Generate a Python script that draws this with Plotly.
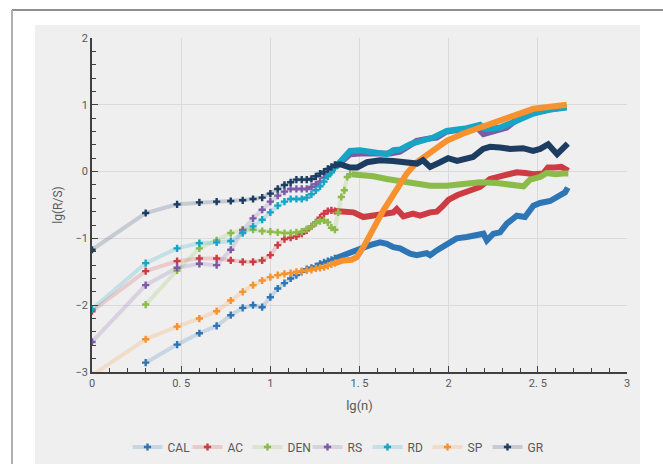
import numpy as np
import plotly.graph_objects as go

# ---- data: lg(R/S) against lg(n) for seven series ----
SERIES = ["CAL", "AC", "DEN", "RS", "RD", "SP", "GR"]
COLORS = {
    "CAL": (46, 117, 182),
    "AC": (204, 60, 66),
    "DEN": (139, 187, 72),
    "RS": (123, 90, 166),
    "RD": (23, 165, 198),
    "SP": (248, 146, 47),
    "GR": (29, 60, 98),
}

# sub-series length n for the individually marked points
N_EARLY = list(range(1, 24))

# lg(R/S) at n = 1..23 (None where the series has no value)
cal_early = [None, -2.86, -2.59, -2.42, -2.31, -2.15, -2.04, -2.00, -2.03, -1.88,
             -1.75, -1.67, -1.60, -1.55, -1.50, -1.46, -1.44, -1.42, -1.38, -1.36,
             -1.34, -1.32, -1.30]
ac_early = [-2.09, -1.49, -1.34, -1.30, -1.30, -1.33, -1.35, -1.35, -1.33, -1.25,
            -1.10, -1.01, -0.99, -0.97, -0.93, -0.88, -0.82, -0.76, -0.69, -0.63,
            -0.59, -0.58, -0.59]
den_early = [None, -1.99, -1.48, -1.15, -1.03, -0.92, -0.87, -0.87, -0.89, -0.90,
             -0.91, -0.92, -0.92, -0.91, -0.90, -0.86, -0.82, -0.77, -0.74, -0.73,
             -0.76, -0.84, -0.87]
rs_early = [-2.55, -1.70, -1.44, -1.38, -1.40, -1.17, -0.88, -0.70, -0.57, -0.45,
            -0.36, -0.30, -0.26, -0.26, -0.26, -0.26, -0.23, -0.19, -0.15, -0.09,
            -0.03, 0.01, 0.06]
rd_early = [-2.06, -1.37, -1.15, -1.07, -1.06, -1.04, -0.92, -0.82, -0.72, -0.61,
            -0.51, -0.45, -0.41, -0.41, -0.41, -0.39, -0.34, -0.28, -0.22, -0.15,
            -0.07, -0.01, 0.06]
sp_early = [-3.05, -2.51, -2.32, -2.20, -2.09, -1.93, -1.80, -1.70, -1.63, -1.58,
            -1.55, -1.53, -1.52, -1.50, -1.49, -1.48, -1.47, -1.45, -1.44, -1.43,
            -1.41, -1.39, -1.37]
gr_early = [-1.17, -0.62, -0.49, -0.46, -0.45, -0.44, -0.43, -0.41, -0.39, -0.33,
            -0.26, -0.20, -0.16, -0.12, -0.12, -0.12, -0.11, -0.07, -0.03, 0.00,
            0.04, 0.07, 0.10]

# DEN keeps separate markers for a few more steps (n = 24..28)
den_extra_n = [24, 25, 26, 27, 28]
den_extra = [-0.61, -0.38, -0.28, -0.08, -0.04]

# dense tails (lg(n), lg(R/S)) where the markers merge into a solid band
cal_tail_x = [1.362, 1.391, 1.447, 1.503, 1.559, 1.615, 1.653, 1.690, 1.727, 1.784,
              1.821, 1.877, 1.896, 1.933, 1.989, 2.045, 2.102, 2.158, 2.195, 2.214,
              2.251, 2.288, 2.326, 2.382, 2.428, 2.475, 2.513, 2.569, 2.615, 2.653, 2.668]
cal_tail_y = [-1.30, -1.27, -1.20, -1.15, -1.10, -1.06, -1.08, -1.13, -1.15, -1.23,
              -1.25, -1.22, -1.25, -1.18, -1.10, -1.00, -0.98, -0.96, -0.93, -1.03,
              -0.93, -0.91, -0.78, -0.66, -0.68, -0.51, -0.47, -0.44, -0.36, -0.31, -0.24]

ac_tail_x = [1.362, 1.410, 1.466, 1.522, 1.578, 1.615, 1.690, 1.709, 1.746, 1.800,
             1.840, 1.896, 1.933, 1.965, 2.000, 2.050, 2.120, 2.176, 2.232, 2.307,
             2.382, 2.430, 2.475, 2.529, 2.557, 2.594, 2.632, 2.671]
ac_tail_y = [-0.59, -0.59, -0.61, -0.68, -0.65, -0.63, -0.61, -0.56, -0.67, -0.63,
             -0.66, -0.61, -0.60, -0.52, -0.42, -0.35, -0.27, -0.23, -0.11, -0.06,
             -0.01, -0.02, -0.04, -0.03, 0.06, 0.06, 0.07, 0.01]

den_tail_x = [1.456, 1.503, 1.578, 1.653, 1.727, 1.800, 1.896, 1.989, 2.081, 2.176,
              2.270, 2.363, 2.400, 2.420, 2.456, 2.513, 2.550, 2.600, 2.640, 2.671]
den_tail_y = [-0.04, -0.05, -0.07, -0.11, -0.14, -0.18, -0.21, -0.21, -0.19, -0.16,
              -0.17, -0.19, -0.21, -0.22, -0.12, -0.08, -0.02, -0.04, -0.03, -0.03]

rs_tail_x = [1.362, 1.410, 1.447, 1.503, 1.559, 1.615, 1.671, 1.727, 1.784, 1.821,
             1.877, 1.933, 1.989, 2.045, 2.102, 2.158, 2.195, 2.251, 2.326, 2.363,
             2.400, 2.475, 2.569, 2.662]
rs_tail_y = [0.06, 0.19, 0.26, 0.27, 0.27, 0.27, 0.27, 0.30, 0.39, 0.46,
             0.49, 0.51, 0.60, 0.62, 0.64, 0.66, 0.56, 0.61, 0.66, 0.74,
             0.84, 0.89, 0.93, 0.97]

rd_tail_x = [1.362, 1.410, 1.447, 1.503, 1.559, 1.615, 1.653, 1.690, 1.727, 1.784,
             1.840, 1.914, 1.989, 2.045, 2.102, 2.176, 2.200, 2.232, 2.288, 2.363,
             2.475, 2.569, 2.662]
rd_tail_y = [0.06, 0.21, 0.31, 0.32, 0.30, 0.29, 0.26, 0.32, 0.33, 0.41,
             0.46, 0.51, 0.61, 0.62, 0.65, 0.70, 0.64, 0.64, 0.66, 0.74,
             0.87, 0.93, 0.96]

sp_tail_x = [1.362, 1.410, 1.456, 1.485, 1.522, 1.559, 1.597, 1.634, 1.671, 1.709,
             1.765, 1.821, 1.896, 1.989, 2.082, 2.176, 2.270, 2.363, 2.420, 2.475,
             2.569, 2.662]
sp_tail_y = [-1.37, -1.33, -1.32, -1.28, -1.13, -0.93, -0.76, -0.58, -0.43, -0.26,
             -0.03, 0.14, 0.29, 0.46, 0.57, 0.66, 0.76, 0.85, 0.90, 0.94,
             0.97, 1.00]

gr_tail_x = [1.362, 1.391, 1.447, 1.486, 1.542, 1.615, 1.688, 1.767, 1.823, 1.856,
             1.896, 1.952, 1.997, 2.047, 2.081, 2.137, 2.193, 2.232, 2.288, 2.344,
             2.417, 2.473, 2.513, 2.558, 2.608, 2.642, 2.668]
gr_tail_y = [0.10, 0.11, 0.06, 0.06, 0.14, 0.17, 0.16, 0.14, 0.12, 0.17,
             0.07, 0.14, 0.20, 0.16, 0.18, 0.22, 0.34, 0.37, 0.36, 0.34,
             0.35, 0.31, 0.34, 0.41, 0.26, 0.37, 0.42]

X_TICKS = [0, 0.5, 1, 1.5, 2, 2.5, 3]
X_TICK_TEXT = ["0", "0. 5", "1", "1. 5", "2", "2. 5", "3"]

early = {"CAL": cal_early, "AC": ac_early, "DEN": den_early, "RS": rs_early,
         "RD": rd_early, "SP": sp_early, "GR": gr_early}
tails = {"CAL": (cal_tail_x, cal_tail_y), "AC": (ac_tail_x, ac_tail_y),
         "DEN": (den_tail_x, den_tail_y), "RS": (rs_tail_x, rs_tail_y),
         "RD": (rd_tail_x, rd_tail_y), "SP": (sp_tail_x, sp_tail_y),
         "GR": (gr_tail_x, gr_tail_y)}

# ---- figure geometry (pixels) ----
W, H = 663, 464
PL, PR, PT, PB = 92, 627, 38, 372  # plot area edges
PANEL_L, PANEL_R, PANEL_T = 35, 640, 25


def px_x(px):
    return (px - PL) / (PR - PL)


def px_y(py):
    return (PB - py) / (PB - PT)


def rgba(c, a):
    return f"rgba({c[0]},{c[1]},{c[2]},{a})"


FONT = "Roboto, Noto Sans, sans-serif"
TXT = "#595959"

fig = go.Figure()
for name in SERIES:
    c = COLORS[name]
    n_vals = list(N_EARLY)
    y_vals = list(early[name])
    if name == "DEN":
        n_vals += den_extra_n
        y_vals += den_extra
    x_vals = [float(np.log10(n)) for n in n_vals]
    fig.add_trace(go.Scatter(
        x=x_vals, y=y_vals, name=name, legendgroup=name,
        mode="lines+markers", connectgaps=False,
        line=dict(color=rgba(c, 0.2), width=4),
        marker=dict(symbol="cross", size=6, color=rgba(c, 1)),
    ))
    tx, ty = tails[name]
    fig.add_trace(go.Scatter(
        x=tx, y=ty, name=name, legendgroup=name, showlegend=False,
        mode="lines", line=dict(color=rgba(c, 1), width=6),
        hoverinfo="skip",
    ))

shapes = [
    # light panel behind the chart
    dict(type="rect", xref="paper", yref="paper", layer="below",
         x0=px_x(PANEL_L), x1=px_x(PANEL_R), y0=px_y(470), y1=px_y(PANEL_T),
         fillcolor="#efefef", line=dict(width=0)),
    # outer frame edges
    dict(type="line", xref="paper", yref="paper", layer="below",
         x0=px_x(12), x1=px_x(670), y0=px_y(10), y1=px_y(10),
         line=dict(color="#8f8f8f", width=2)),
    dict(type="line", xref="paper", yref="paper", layer="below",
         x0=px_x(12), x1=px_x(12), y0=px_y(10), y1=px_y(470),
         line=dict(color="#b0b0b0", width=2)),
]

fig.update_layout(
    width=W, height=H,
    margin=dict(l=PL, r=W - PR, t=PT, b=H - PB, autoexpand=False),
    paper_bgcolor="white",
    plot_bgcolor="#efefef",
    font=dict(family=FONT, size=11, color=TXT),
    shapes=shapes,
    showlegend=True,
    legend=dict(orientation="h", x=px_x((PANEL_L + PANEL_R) / 2), xanchor="center",
                y=px_y(447), yanchor="middle",
                font=dict(size=12, color=TXT), bgcolor="rgba(0,0,0,0)",
                entrywidth=15, itemwidth=30, tracegroupgap=0),
    xaxis=dict(
        range=[0, 3], tickvals=X_TICKS, ticktext=X_TICK_TEXT,
        ticks="inside", ticklen=6, tickcolor="#404040", automargin=False,
        showline=True, linecolor="#404040", linewidth=1.5,
        showgrid=True, gridcolor="#dadada", gridwidth=1, zeroline=False,
        minor=dict(dtick=0.1, ticks="inside", ticklen=4, tickcolor="#404040",
                   showgrid=False),
        tickfont=dict(size=11, color=TXT),
        title=dict(text="lg(n)", font=dict(size=13, color=TXT), standoff=12),
    ),
    yaxis=dict(
        range=[-3, 2], dtick=1, tick0=0, automargin=False,
        ticks="inside", ticklen=6, tickcolor="#404040",
        showline=True, linecolor="#404040", linewidth=1.5,
        showgrid=True, gridcolor="#dadada", gridwidth=1, zeroline=False,
        minor=dict(dtick=0.2, ticks="inside", ticklen=4, tickcolor="#404040",
                   showgrid=False),
        tickfont=dict(size=11, color=TXT),
        title=dict(text="lg(R/S)", font=dict(size=12, color=TXT), standoff=10),
    ),
)

fig.write_html("out.html")
